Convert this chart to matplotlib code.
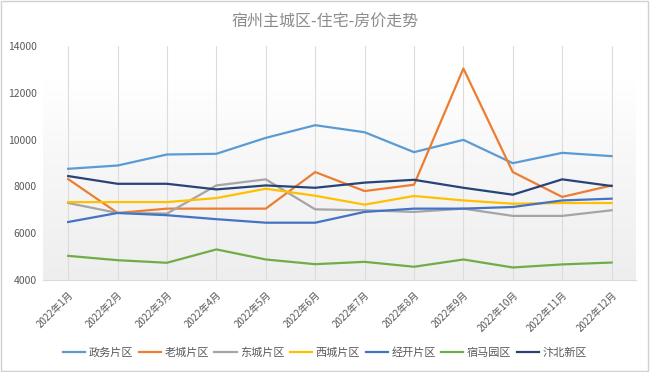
import matplotlib
matplotlib.use("Agg")
import matplotlib.pyplot as plt
import numpy as np
from matplotlib.patches import Rectangle

plt.rcParams['font.family'] = ['Noto Sans CJK SC', 'DejaVu Sans']

months = ["2022年1月", "2022年2月", "2022年3月", "2022年4月", "2022年5月", "2022年6月",
          "2022年7月", "2022年8月", "2022年9月", "2022年10月", "2022年11月", "2022年12月"]

zhengwu = [8750, 8890, 9360, 9390, 10070, 10610, 10310, 9460, 9985, 8990, 9430, 9290]
laocheng = [8310, 6865, 7050, 7050, 7050, 8610, 7800, 8070, 13030, 8610, 7550, 8040]
dongcheng = [7290, 6865, 6840, 8040, 8300, 7020, 6980, 6910, 7050, 6740, 6740, 6980]
xicheng = [7330, 7330, 7330, 7500, 7900, 7600, 7220, 7590, 7400, 7260, 7290, 7290]
jingkai = [6480, 6865, 6770, 6600, 6450, 6450, 6910, 7050, 7050, 7120, 7400, 7475]
suma = [5035, 4850, 4740, 5310, 4880, 4680, 4780, 4570, 4880, 4540, 4670, 4750]
bianbei = [8440, 8110, 8110, 7870, 8040, 7940, 8160, 8280, 7940, 7645, 8300, 8015]

series_names = ["政务片区", "老城片区", "东城片区", "西城片区", "经开片区", "宿马园区", "汴北新区"]
series_vals = [zhengwu, laocheng, dongcheng, xicheng, jingkai, suma, bianbei]
colors = ["#5B9BD5", "#ED7D31", "#A5A5A5", "#FFC000", "#4472C4", "#70AD47", "#264478"]

yticks = [4000, 6000, 8000, 10000, 12000, 14000]

fig = plt.figure(figsize=(6.5, 3.72), dpi=100)
ax = fig.add_axes([0.0669, 0.247, 0.912, 0.630])

x = np.arange(len(months))

# background gradient
grad = np.linspace(0, 1, 256).reshape(-1, 1)
cmap = matplotlib.colors.LinearSegmentedColormap.from_list(
    "g", [(0, "#eeeeee"), (0.55, "#f8f8f8"), (0.85, "#ffffff"), (1, "#ffffff")])
ax.imshow(grad, aspect='auto', cmap=cmap, extent=[-0.5, 11.5, 4000, 14000],
          origin='lower', zorder=0, interpolation='bicubic')

for xi in x:
    ax.axvline(xi, color="#dcdcdc", lw=0.8, zorder=1)

for name, vals, c in zip(series_names, series_vals, colors):
    ax.plot(x, vals, color=c, lw=1.6, label=name, zorder=3)

ax.set_xlim(-0.5, 11.5)
ax.set_ylim(4000, 14000)
ax.set_yticks(yticks)
ax.set_yticklabels([str(v) for v in yticks], fontsize=7.5, color="#595959")
ax.set_xticks(x)
ax.set_xticklabels(months, rotation=45, ha='right', rotation_mode='anchor',
                   fontsize=7, color="#595959")
ax.tick_params(axis='y', length=0, pad=5)
ax.tick_params(axis='x', length=0, pad=7)
for s in ['top', 'right', 'left']:
    ax.spines[s].set_visible(False)
ax.spines['bottom'].set_color("#d9d9d9")
ax.spines['bottom'].set_linewidth(0.8)

fig.text(0.5, 0.94, "宿州主城区-住宅-房价走势", ha='center', va='center',
         fontsize=11.5, color="#8c8c8c")

leg = fig.legend(loc='center', bbox_to_anchor=(0.5, 0.052), ncol=7, frameon=False,
                 fontsize=8, handlelength=2.0, handletextpad=0.3, columnspacing=0.5)
for t in leg.get_texts():
    t.set_color("#595959")

fig.patches.append(Rectangle((0.002, 0.003), 0.995, 0.994, transform=fig.transFigure,
                             fill=False, edgecolor="#d0d0d0", lw=1))

fig.savefig("out.png", dpi=100)
